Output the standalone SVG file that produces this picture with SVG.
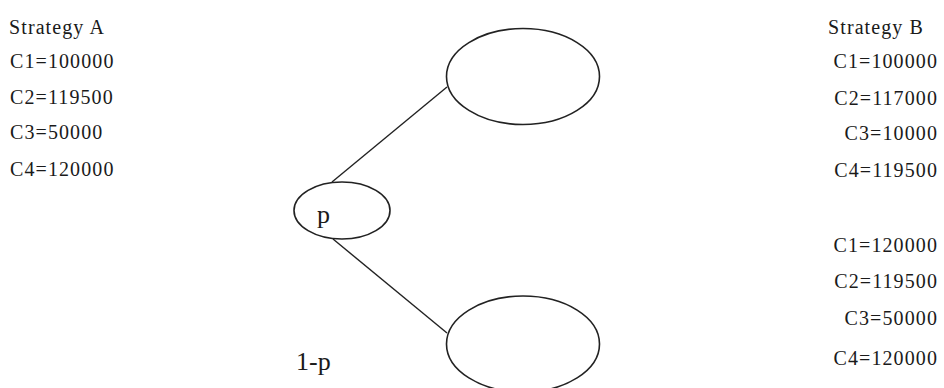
<svg xmlns="http://www.w3.org/2000/svg" width="944" height="388" viewBox="0 0 944 388">
<style>
.t{font-family:"Liberation Serif","Times New Roman",serif;font-size:20px;letter-spacing:1.1px;fill:#1a1a1a}
.r{text-anchor:end}
.big{font-family:"Liberation Serif","Times New Roman",serif;font-size:26px;fill:#1a1a1a}
.n{fill:#fff;stroke:#222;stroke-width:1.6}
.c{stroke:#222;stroke-width:1.4;fill:none}
</style>
<rect width="944" height="388" fill="#fff"/>
<g id="strategyA">
<text class="t" x="9" y="34">Strategy A</text>
<text class="t" x="10" y="68">C1=100000</text>
<text class="t" x="10" y="104">C2=119500</text>
<text class="t" x="10" y="139">C3=50000</text>
<text class="t" x="10" y="176">C4=120000</text>
</g>
<g id="strategyB">
<text class="t" x="828" y="34">Strategy B</text>
<text class="t r" x="938" y="68">C1=100000</text>
<text class="t r" x="938" y="105">C2=117000</text>
<text class="t r" x="938" y="140">C3=10000</text>
<text class="t r" x="938" y="177">C4=119500</text>
<text class="t r" x="938" y="252">C1=120000</text>
<text class="t r" x="938" y="288">C2=119500</text>
<text class="t r" x="938" y="325">C3=50000</text>
<text class="t r" x="938" y="365">C4=120000</text>
</g>
<g id="connectors">
<line class="c" x1="332" y1="182" x2="447" y2="87"/>
<line class="c" x1="333" y1="239" x2="447" y2="333"/>
</g>
<g id="node-p">
<ellipse class="n" cx="342" cy="210.5" rx="48" ry="28.5"/>
<text class="big" x="317" y="223">p</text>
</g>
<g id="node-top">
<ellipse class="n" cx="523" cy="76.5" rx="76.5" ry="48"/>
</g>
<g id="node-bottom">
<ellipse class="n" cx="523" cy="344" rx="76.5" ry="48"/>
</g>
<text class="big" x="296" y="370">1-p</text>
</svg>
